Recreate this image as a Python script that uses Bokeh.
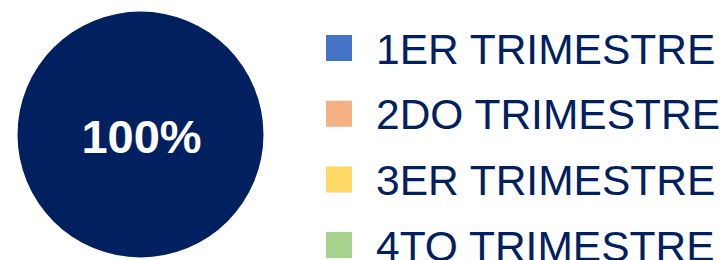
import math
from bokeh.plotting import figure
from bokeh.models import Range1d
from bokeh.core.properties import value
from bokeh.embed import file_html
from bokeh.resources import INLINE

# data
quarters = ["1ER TRIMESTRE", "2DO TRIMESTRE", "3ER TRIMESTRE", "4TO TRIMESTRE"]
legend_colors = ["#4472C4", "#F4B183", "#FFD966", "#A9D18E"]
pie_values = [100]
pie_colors = ["#002060"]
text_color = "#002060"

W, H = 725, 260
p = figure(width=W, height=H, output_backend="svg", toolbar_location=None,
           x_range=Range1d(0, W), y_range=Range1d(H, 0), min_border=0)
p.axis.visible = False
p.grid.visible = False
p.outline_line_color = None
p.background_fill_color = "white"
p.border_fill_color = "white"

cx, cy, r = 140, 134, 123
total = sum(pie_values)
start = 0.0
for v, c in zip(pie_values, pie_colors):
    end = start + 2 * math.pi * v / total
    if v == total:
        p.scatter(x=[cx], y=[cy], size=2 * r, marker="circle", fill_color=c, line_color=None)
    else:
        p.wedge(x=[cx], y=[cy], radius=r, start_angle=start, end_angle=end,
                fill_color=c, line_color=None)
    start = end

p.text(x=[cx + 1], y=[cy + 2], text=[f"{round(pie_values[0] / total * 100)}%"],
       text_font=value("Liberation Sans"), text_font_style="bold",
       text_font_size="47px", text_color="white",
       text_align="center", text_baseline="middle")

step = 65.7
ys = [47.5 + i * step for i in range(len(quarters))]
p.rect(x=[338.5] * len(quarters), y=ys, width=26, height=26,
       fill_color=legend_colors, line_color=None)
p.text(x=[375.5] * len(quarters), y=[y + 1 for y in ys], text=quarters,
       text_font=value("Liberation Sans"), text_font_size="42.5px",
       text_color=text_color, text_align="left", text_baseline="middle")

open("out.html", "w").write(file_html(p, INLINE))
